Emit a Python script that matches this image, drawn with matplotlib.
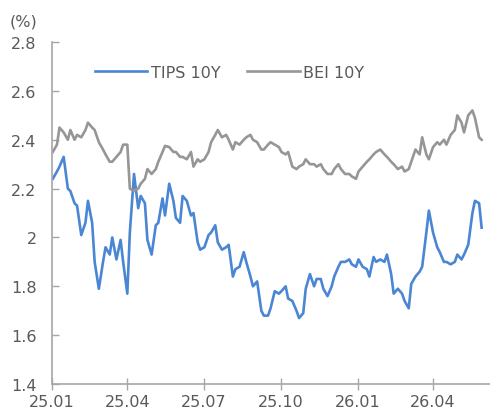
import numpy as np
import pandas as pd
import matplotlib
matplotlib.use("Agg")
import matplotlib.pyplot as plt

# values, one point every 3 business days from 2025-01-02
tips_10y = [
    2.24, 2.27, 2.29, 2.33, 2.20, 2.19, 2.14, 2.13, 2.01, 2.06,
    2.15, 2.06, 1.90, 1.79, 1.90, 1.96, 1.93, 2.00, 1.91, 1.99,
    1.90, 1.77, 2.02, 2.26, 2.12, 2.17, 2.14, 1.99, 1.93, 2.05,
    2.06, 2.16, 2.09, 2.22, 2.15, 2.08, 2.06, 2.17, 2.15, 2.09,
    2.10, 1.98, 1.95, 1.96, 2.01, 2.02, 2.05, 1.98, 1.95, 1.96,
    1.97, 1.84, 1.87, 1.88, 1.94, 1.90, 1.84, 1.80, 1.82, 1.70,
    1.68, 1.68, 1.71, 1.78, 1.77, 1.78, 1.80, 1.75, 1.74, 1.70,
    1.67, 1.69, 1.79, 1.85, 1.80, 1.83, 1.83, 1.79, 1.76, 1.80,
    1.84, 1.88, 1.90, 1.90, 1.91, 1.89, 1.88, 1.91, 1.88, 1.87,
    1.84, 1.92, 1.90, 1.91, 1.90, 1.93, 1.85, 1.77, 1.79, 1.77,
    1.74, 1.71, 1.81, 1.84, 1.86, 1.88, 2.02, 2.11, 2.02, 1.96,
    1.94, 1.90, 1.90, 1.89, 1.90, 1.93, 1.91, 1.93, 1.97, 2.10,
    2.15, 2.14, 2.04,
]
bei_10y = [
    2.35, 2.38, 2.45, 2.43, 2.40, 2.44, 2.40, 2.42, 2.41, 2.44,
    2.47, 2.45, 2.44, 2.39, 2.36, 2.34, 2.31, 2.31, 2.33, 2.35,
    2.38, 2.38, 2.20, 2.19, 2.20, 2.22, 2.24, 2.28, 2.26, 2.28,
    2.31, 2.35, 2.375, 2.37, 2.35, 2.35, 2.33, 2.33, 2.32, 2.35,
    2.29, 2.32, 2.31, 2.32, 2.35, 2.39, 2.42, 2.44, 2.41, 2.42,
    2.40, 2.36, 2.39, 2.38, 2.40, 2.41, 2.42, 2.40, 2.39, 2.36,
    2.36, 2.38, 2.39, 2.38, 2.37, 2.35, 2.34, 2.35, 2.29, 2.28,
    2.29, 2.30, 2.32, 2.30, 2.30, 2.29, 2.30, 2.28, 2.26, 2.26,
    2.28, 2.30, 2.28, 2.26, 2.26, 2.25, 2.24, 2.27, 2.29, 2.31,
    2.32, 2.34, 2.35, 2.36, 2.34, 2.33, 2.31, 2.30, 2.28, 2.29,
    2.27, 2.28, 2.31, 2.36, 2.34, 2.41, 2.34, 2.32, 2.37, 2.39,
    2.38, 2.40, 2.38, 2.42, 2.44, 2.50, 2.47, 2.43, 2.50, 2.52,
    2.49, 2.41, 2.40,
]
dates = pd.bdate_range("2025-01-02", periods=len(tips_10y), freq="3B")

tick_dates = pd.to_datetime(["2025-01-01", "2025-04-01", "2025-07-01",
                             "2025-10-01", "2026-01-01", "2026-04-01"])
tick_labels = ["25.01", "25.04", "25.07", "25.10", "26.01", "26.04"]
ytick_labels = ["1.4", "1.6", "1.8", "2", "2.2", "2.4", "2.6", "2.8"]

text_c = "#595959"
axis_c = "#a6a6a6"

fig = plt.figure(figsize=(4.9, 4.14), dpi=100)
ax = fig.add_axes([0.106, 0.07, 0.894, 0.826])

ax.plot(dates, tips_10y, color="#4a86d4", lw=1.9, label="TIPS 10Y")
ax.plot(dates, bei_10y, color="#969696", lw=1.9, label="BEI 10Y")

ax.set_ylim(1.4, 2.8)
ax.set_yticks(np.arange(1.4, 2.81, 0.2))
ax.set_yticklabels(ytick_labels)
ax.set_xlim(pd.Timestamp("2025-01-01"), pd.Timestamp("2026-06-08"))
ax.set_xticks(tick_dates)
ax.set_xticklabels(tick_labels)

for s in ["top", "right"]:
    ax.spines[s].set_visible(False)
for s in ["left", "bottom"]:
    ax.spines[s].set_color(axis_c)
    ax.spines[s].set_linewidth(1.2)
ax.tick_params(axis="x", direction="inout", length=8, width=1, color=axis_c,
               labelsize=11.5, labelcolor=text_c, pad=3)
ax.tick_params(axis="y", direction="in", length=5, width=1, color=axis_c,
               labelsize=11.5, labelcolor=text_c, pad=11)

fig.text(0.02, 0.947, "(%)", fontsize=11.5, color=text_c, va="center")

leg = ax.legend(loc="upper left", bbox_to_anchor=(0.065, 0.975), ncol=2,
                frameon=False, fontsize=11.5, handlelength=3.3,
                columnspacing=1.7, handletextpad=0.2)
for t in leg.get_texts():
    t.set_color(text_c)

fig.savefig("out.png", dpi=100)
